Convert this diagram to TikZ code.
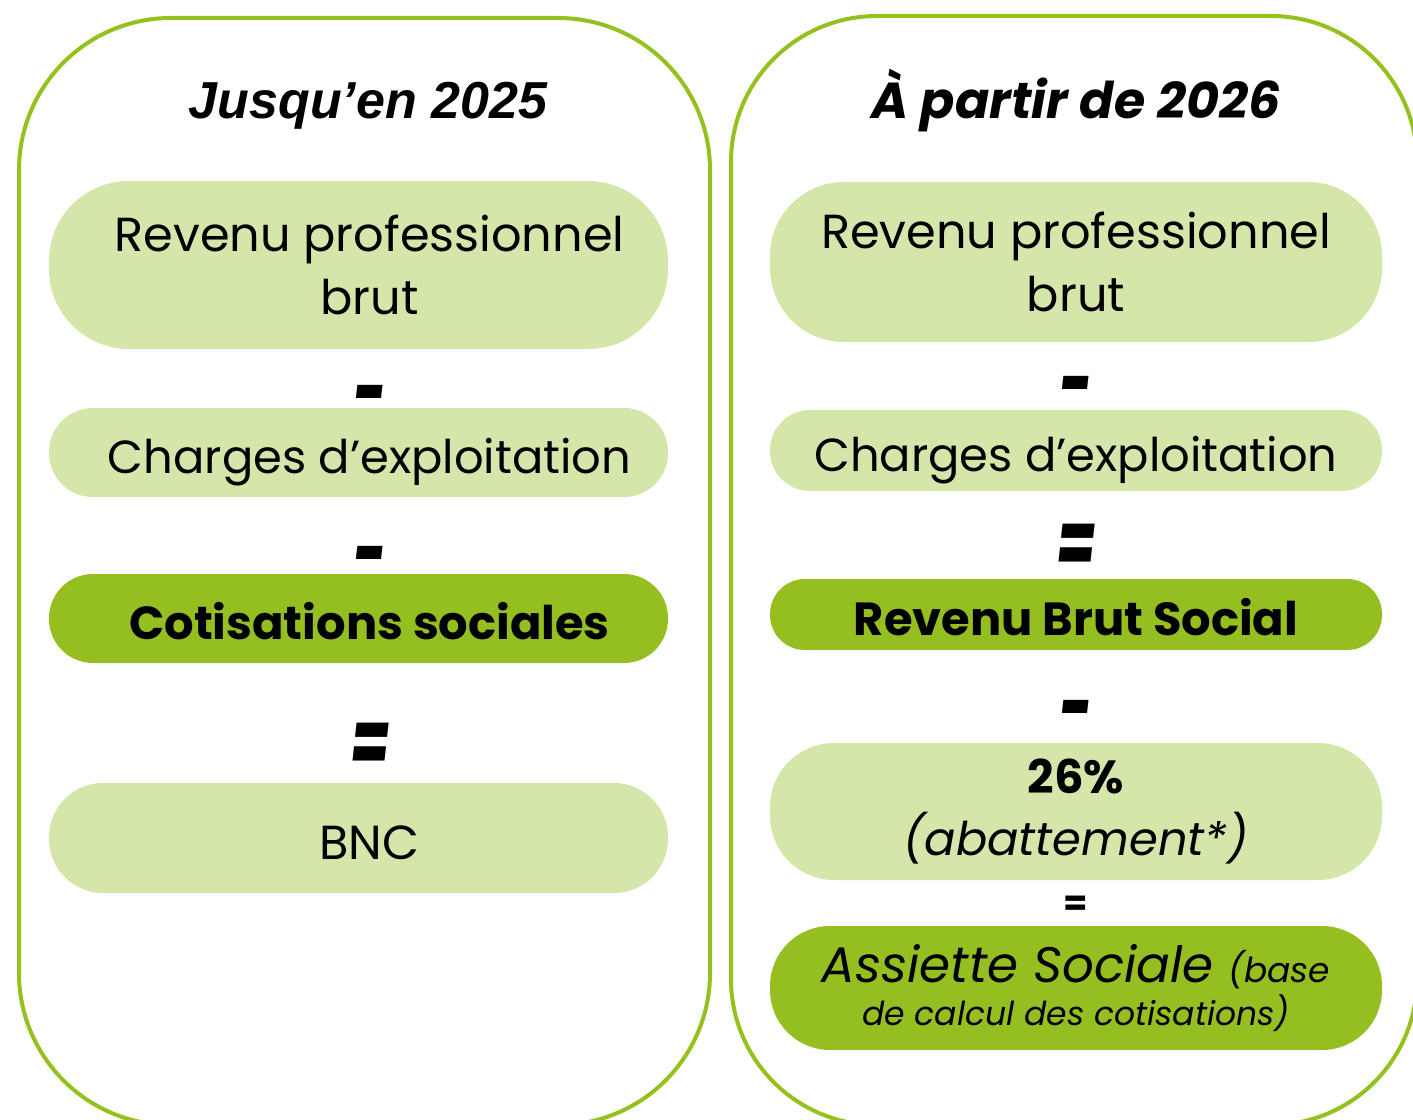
\documentclass[tikz,border=0pt]{standalone}
\usepackage{fontspec}
\setmainfont{Poppins}
\newfontfamily\headfont{Liberation Sans}
\definecolor{leaf}{HTML}{95C11F}
\definecolor{leaflight}{HTML}{D4E6A9}
\definecolor{leafdark}{HTML}{95BE21}
\newcommand\lpad{\hspace*{11mm}}

\begin{document}
\begin{tikzpicture}[x=0.5mm,y=-0.5mm,
  panel/.style={draw=leaf,line width=2mm},
  box/.style={fill=leaflight,minimum width=309.5mm,inner sep=0pt,align=center,font=\fontsize{68}{90}\selectfont},
  oneline/.style={text height=60pt,text depth=0pt},
  darkbox/.style={box,oneline,fill=leafdark,font=\fontsize{66}{80}\selectfont\bfseries},
  op/.style={inner sep=0pt,font=\fontsize{110}{110}\selectfont\bfseries\itshape}]
\useasboundingbox (0,0) rectangle (1413,1120);
\clip (0,0) rectangle (1413,1120);
% the two frames
\draw[panel,rounded corners=76mm] (19,18) rectangle (710,1125);
\draw[panel,rounded corners=73mm] (731,16) rectangle (1417,1125);
% left: until 2025
\node[font=\headfont\fontsize{74}{74}\selectfont\bfseries\itshape] (titleL) at (368,106) {Jusqu’en 2025};
\node[box,minimum height=84mm,rounded corners=40mm] (brutL) at (358.5,265) {\lpad Revenu professionnel\\\lpad brut};
\node[box,oneline,minimum height=44.5mm,rounded corners=22mm,font=\fontsize{66}{80}\selectfont] (chargesL) at (358.5,452.5) {\lpad Charges d’exploitation};
\node[darkbox,minimum height=44.5mm,rounded corners=22mm] (cotis) at (358.5,618.5) {\lpad Cotisations sociales};
\node[box,oneline,minimum height=55mm,rounded corners=27mm] (bnc) at (358.5,838) {\lpad BNC};
% right: from 2026
\node[font=\fontsize{72}{72}\selectfont\bfseries\itshape] (titleR) at (1076,101) {À partir de 2026};
\node[box,minimum height=80mm,rounded corners=37mm,minimum width=306mm] (brutR) at (1076,262) {Revenu professionnel\\brut};
\node[box,oneline,minimum height=40.5mm,rounded corners=20mm,minimum width=306mm,font=\fontsize{66}{80}\selectfont] (chargesR) at (1076,450.5) {Charges d’exploitation};
\node[darkbox,minimum height=35.5mm,rounded corners=17.5mm,minimum width=306mm] (rbs) at (1076,614.5) {Revenu Brut Social};
\node[box,minimum height=68.5mm,rounded corners=32mm,minimum width=306mm,font=\fontsize{66}{88}\selectfont] (abat) at (1076,811.5) {\textbf{26\%}\\\textit{(abattement*)}};
\node[box,fill=leafdark,minimum height=62mm,rounded corners=30mm,minimum width=306mm,font=\fontsize{71}{61}\selectfont\itshape] (assiette) at (1076,988) {Assiette Sociale {\fontsize{49}{61}\selectfont(base}\\{\fontsize{47}{61}\selectfont de calcul des cotisations)}};
% operators
\foreach \x/\y/\s [count=\i] in {370/405/-,370/566/-,370/749/=,1076/396/-,1076/550/=,1076/720/-}
  \node[op] (op\i) at (\x,\y) {\scalebox{0.74}[1.2]{\s}};
\node[inner sep=0pt,font=\fontsize{50}{50}\selectfont\bfseries] (eqsmall) at (1076,906) {=};
\end{tikzpicture}
\end{document}
